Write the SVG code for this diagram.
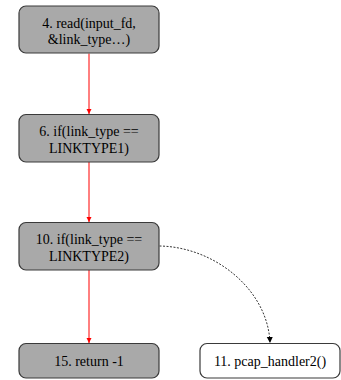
<svg xmlns="http://www.w3.org/2000/svg" width="341" height="380" viewBox="0 0 341 380">
<style>
.box{stroke:#3a3a3a;stroke-width:1.2}
.g{fill:#a9a9a9}
.w{fill:#ffffff}
text{font-family:'Liberation Serif','Times New Roman',Times,'DejaVu Serif',serif;font-size:14px;fill:#000;text-anchor:middle}
.red{stroke:#ff0000;stroke-width:1;fill:none}
.dash{stroke:#000;stroke-width:0.8;fill:none;stroke-dasharray:2,1.5}
</style>
<defs>
<marker id="ar" markerWidth="6" markerHeight="6" refX="5" refY="3" orient="auto" markerUnits="userSpaceOnUse">
<path d="M0,0.5 L5,3 L0,5.5 Z" fill="#ff0000"/>
</marker>
<marker id="ak" markerWidth="8" markerHeight="8" refX="6" refY="3.5" orient="auto" markerUnits="userSpaceOnUse">
<path d="M0,0.5 L6,3.5 L0,6.5 Z" fill="#000"/>
</marker>
</defs>
<g id="edges">
<path class="red" d="M89,53.5 L89,114" marker-end="url(#ar)"/>
<path class="red" d="M89,162 L89,222" marker-end="url(#ar)"/>
<path class="red" d="M89,270 L89,343" marker-end="url(#ar)"/>
<path class="dash" d="M159.5,246 C215,247 268,290 270,343" marker-end="url(#ak)"/>
</g>
<g id="n4">
<rect class="box g" x="19" y="6" width="140" height="47" rx="7"/>
<text x="89" y="27.5">4. read(input_fd,</text>
<text x="89" y="44">&amp;link_type…)</text>
</g>
<g id="n6">
<rect class="box g" x="19" y="114.5" width="140" height="47.5" rx="7"/>
<text x="89" y="136">6. if(link_type ==</text>
<text x="89" y="152.5">LINKTYPE1)</text>
</g>
<g id="n10">
<rect class="box g" x="19" y="222.5" width="140" height="47.5" rx="7"/>
<text x="89" y="244">10. if(link_type ==</text>
<text x="89" y="260.5">LINKTYPE2)</text>
</g>
<g id="n15">
<rect class="box g" x="19" y="343.5" width="140" height="34.5" rx="7"/>
<text x="89" y="365.5">15. return -1</text>
</g>
<g id="n11">
<rect class="box w" x="200" y="343.5" width="140" height="34.5" rx="7"/>
<text x="270" y="365.5">11. pcap_handler2()</text>
</g>
</svg>
